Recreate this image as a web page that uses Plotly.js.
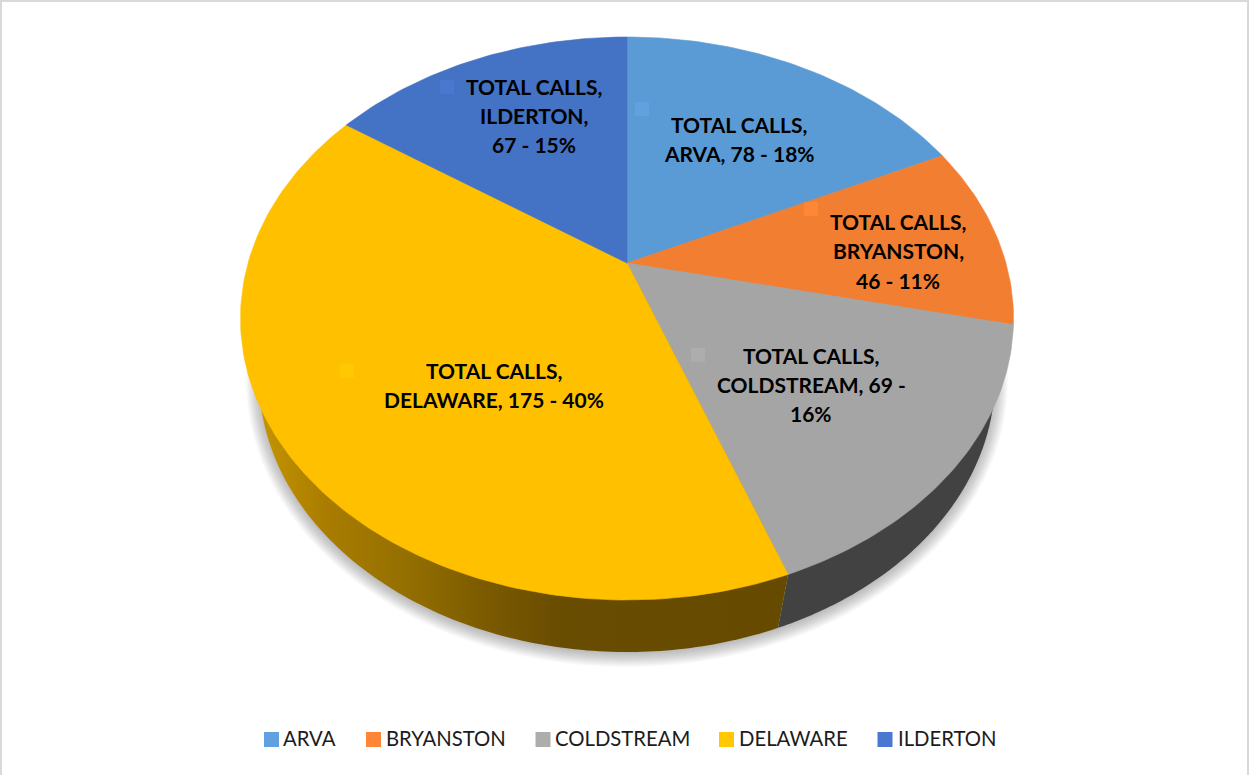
<!DOCTYPE html>
<html>
<head>
<meta charset="utf-8">
<script src="https://cdn.plot.ly/plotly-3.0.1.min.js"></script>
<style>html,body{margin:0;padding:0;background:#fff}#chart{width:1249px;height:775px}</style>
</head>
<body>
<div id="chart"></div>
<script>
const categories = ['ARVA', 'BRYANSTON', 'COLDSTREAM', 'DELAWARE', 'ILDERTON'];
const totalCalls = [78, 46, 69, 175, 67];
const percents = [18, 11, 16, 40, 15];
const seriesName = 'TOTAL CALLS';
const faceColors = ['#5B9BD5', '#F27F31', '#A5A5A5', '#FFC000', '#4472C4'];
const keyColors = ['#60A2E0', '#FF8636', '#ADADAD', '#FFC800', '#4878CF'];
const labelLines = [
  ['TOTAL CALLS,', 'ARVA, 78 - 18%'],
  ['TOTAL CALLS,', 'BRYANSTON,', '46 - 11%'],
  ['TOTAL CALLS,', 'COLDSTREAM, 69 -', '16%'],
  ['TOTAL CALLS,', 'DELAWARE, 175 - 40%'],
  ['TOTAL CALLS,', 'ILDERTON,', '67 - 15%']
];

/* ---- geometry of the tilted disc (chart units = axis units) ---- */
const G = {cx: 627, cy: 318.5, rx: 386.5, ry: 281.5, tilt: 0.197,
           bcy: 378, brx: 368, bry: 274};
const total = totalCalls.reduce((a, b) => a + b, 0);
function rim(f) {
  const t = 2 * Math.PI * f, x = Math.sin(t), y = Math.cos(t), c = G.tilt;
  const d = 1 + c * y;
  return [G.cx + G.rx * x * Math.sqrt(1 - c * c) / d, G.cy - G.ry * (y + c) / d];
}
const apex = [G.cx, G.cy - G.ry * G.tilt];
function bottom(a) { return [G.cx + G.brx * Math.sin(a), G.bcy - G.bry * Math.cos(a)]; }

const traces = [];
const noHover = {hoverinfo: 'skip', showlegend: false};

/* soft shadow under the disc */
for (let k = 15; k >= 1; k--) {
  const xs = [], ys = [];
  for (let i = 0; i <= 180; i++) {
    const a = i / 180 * 2 * Math.PI;
    xs.push(G.cx + (G.brx + k - 2) * Math.sin(a));
    ys.push(G.bcy + 2 + (G.bry + k - 2) * Math.cos(a));
  }
  traces.push(Object.assign({type: 'scatter', mode: 'none', x: xs, y: ys, fill: 'toself',
    fillcolor: 'rgba(70,70,70,0.028)'}, noHover));
}

/* side wall */
let acc = 0;
const fr = totalCalls.map(v => { const s = acc / total; acc += v; return [s, acc / total]; });
const joinTop = rim(fr[2][1]);
const joinAngle = Math.asin((778 - G.cx) / G.brx);
function wallTrace(aFrom, aTo, style) {
  const xs = [apex[0], joinTop[0]], ys = [apex[1], joinTop[1]];
  for (let i = 0; i <= 120; i++) {
    const p = bottom(aFrom + (aTo - aFrom) * i / 120);
    xs.push(p[0]); ys.push(p[1]);
  }
  xs.push(apex[0]); ys.push(apex[1]);
  return Object.assign({type: 'scatter', mode: 'none', x: xs, y: ys, fill: 'toself'}, style, noHover);
}
traces.push(wallTrace(Math.PI - joinAngle, Math.PI / 2, {fillcolor: '#424242'}));
traces.push(wallTrace(Math.PI - joinAngle, 1.5 * Math.PI, {
  fillgradient: {type: 'horizontal', colorscale: [
    [0, '#C49500'], [0.13, '#A97C00'], [0.27, '#957000'], [0.45, '#785800'],
    [0.57, '#684C00'], [1, '#664A00']]}
}));

/* top faces */
categories.forEach((name, i) => {
  const xs = [apex[0]], ys = [apex[1]], n = Math.max(30, Math.ceil((fr[i][1] - fr[i][0]) * 360));
  for (let j = 0; j <= n; j++) {
    const p = rim(fr[i][0] + (fr[i][1] - fr[i][0]) * j / n);
    xs.push(p[0]); ys.push(p[1]);
  }
  xs.push(apex[0]); ys.push(apex[1]);
  traces.push({type: 'scatter', mode: 'lines', x: xs, y: ys, fill: 'toself', name,
    fillcolor: faceColors[i], line: {color: faceColors[i], width: 0.6},
    text: `${seriesName}, ${name}, ${totalCalls[i]} - ${percents[i]}%`, hoverinfo: 'text', showlegend: false});
});

/* small keys inside the data labels */
const keyAnchors = [[642, 109], [811, 209], [698, 355], [347, 371], [447, 87]];
traces.push(Object.assign({type: 'scatter', mode: 'markers',
  x: keyAnchors.map(p => p[0]), y: keyAnchors.map(p => p[1]),
  marker: {symbol: 'square', size: 14, color: keyColors, line: {width: 0}}}, noHover));

/* legend row */
const legendKeyX = [271.5, 373.5, 543, 726.5, 885];
const legendTextX = [283, 386, 555, 739, 898];
traces.push(Object.assign({type: 'scatter', mode: 'markers',
  x: legendKeyX, y: legendKeyX.map(() => 739.5),
  marker: {symbol: 'square', size: 15, color: keyColors, line: {width: 0}}}, noHover));

const annotations = [];
categories.forEach((name, i) => {
  annotations.push({xref: 'x', yref: 'y', x: legendTextX[i], y: 738, text: name, showarrow: false,
    xanchor: 'left', yanchor: 'middle', xshift: -2,
    font: {family: 'Lato, sans-serif', size: 20.3, color: '#1c1c1c'}});
});

/* data labels, one annotation per line for the reference's line pitch */
const labelCentres = [[739, 139.3], [898, 250.8], [811, 384.3], [494, 385.3], [534, 115.3]];
const pitch = 29.3;
labelLines.forEach((lines, i) => {
  lines.forEach((t, j) => {
    annotations.push({xref: 'x', yref: 'y', x: labelCentres[i][0],
      y: labelCentres[i][1] + (j - (lines.length - 1) / 2) * pitch,
      text: t, showarrow: false, xanchor: 'center', yanchor: 'middle',
      font: {family: 'Lato, sans-serif', size: 21, color: '#000', weight: 700}});
  });
});

const layout = {
  width: 1249, height: 775, margin: {l: 0, r: 0, t: 0, b: 0},
  paper_bgcolor: '#fff', plot_bgcolor: '#fff', showlegend: false,
  xaxis: {range: [0, 1249], visible: false, fixedrange: true},
  yaxis: {range: [775, 0], visible: false, fixedrange: true},
  annotations,
  shapes: [
    {type: 'line', xref: 'paper', yref: 'paper', x0: 0, x1: 1, y0: 0.9987, y1: 0.9987, line: {color: '#d9d9d9', width: 2}},
    {type: 'line', xref: 'paper', yref: 'paper', x0: 0.0008, x1: 0.0008, y0: 0, y1: 1, line: {color: '#d9d9d9', width: 2}},
    {type: 'line', xref: 'paper', yref: 'paper', x0: 0.9992, x1: 0.9992, y0: 0, y1: 1, line: {color: '#d9d9d9', width: 2}}
  ]
};
Plotly.newPlot('chart', traces, layout, {displayModeBar: false, staticPlot: true});
</script>
</body>
</html>
